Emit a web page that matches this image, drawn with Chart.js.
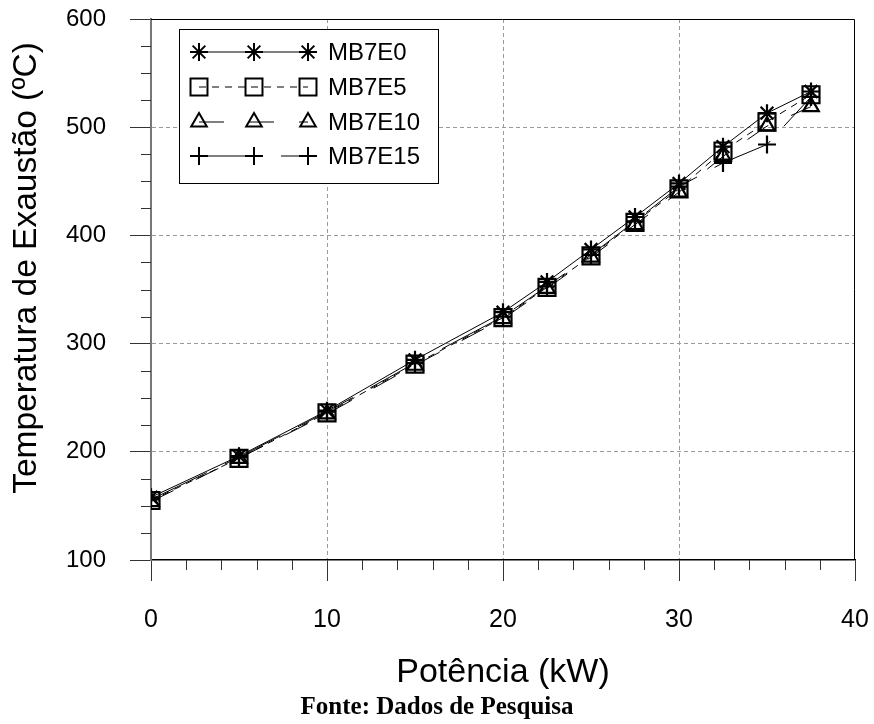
<!DOCTYPE html>
<html>
<head>
<meta charset="utf-8">
<script src="https://cdn.jsdelivr.net/npm/chart.js@4/dist/chart.umd.min.js"></script>
<style>
  html, body { margin: 0; padding: 0; background: #fff; }
  #wrap { width: 874px; height: 724px; }
</style>
</head>
<body>
<div id="wrap"><canvas id="exhaustChart"></canvas></div>
<script>
// Potência (kW) at each test point
const power = [0, 5, 10, 15, 20, 22.5, 25, 27.5, 30, 32.5, 35, 37.5];

// exhaust temperature (ºC) per blend
const mb7e0  = [158, 196, 238, 285, 329, 357, 387, 417, 448, 482, 513, 533];
const mb7e5  = [155, 194, 236, 281, 324, 352, 381, 412, 443, 478, 505, 530];
const mb7e10 = [154, 194, 235, 280, 323, 351, 380, 410, 440, 473, 501, 519];
const mb7e15 = [156, 195, 237, 282, 325, 353, 382, 413, 445, 467, 484, 528];

const seriesNames = ['MB7E0', 'MB7E5', 'MB7E10', 'MB7E15'];

const xTicks = [0, 10, 20, 30, 40];
const yTicks = [100, 200, 300, 400, 500, 600];

const yTitle = 'Temperatura de Exaustão (ºC)';

const toPoints = (ys) => ys.map((y, i) => ({ x: power[i], y: y }));

const sans = "'Liberation Sans', Arial, sans-serif";

const styles = [
    { pointStyle: 'star',     radius: 9,  dash: [] },
    { pointStyle: 'rect',     radius: 12, dash: [7, 6] },
    { pointStyle: 'triangle', radius: 9,  dash: [25, 25] },
    { pointStyle: 'cross',    radius: 9,  dash: [62, 20] }
];

const makeDataset = (label, values, st) => ({
    label: label,
    data: toPoints(values),
    borderColor: '#000',
    borderWidth: 1,
    borderDash: st.dash,
    backgroundColor: 'rgba(0,0,0,0)',
    pointStyle: st.pointStyle,
    pointRadius: st.radius,
    pointBorderColor: '#000',
    pointBorderWidth: 2.2,
    pointBackgroundColor: 'rgba(0,0,0,0)',
    tension: 0
});

// minor ticks outside the axes, a solid frame round the plot, and the y title
const frameAndMinorTicks = {
    id: 'frameAndMinorTicks',
    afterDraw(chart) {
        const { ctx, chartArea: a, scales } = chart;
        ctx.save();
        ctx.strokeStyle = '#333';
        ctx.lineWidth = 1;
        ctx.beginPath();
        for (let v = 0; v <= 40; v += 2) {
            if (v % 10 === 0) continue;
            const px = Math.round(scales.x.getPixelForValue(v)) + 0.5;
            ctx.moveTo(px, a.bottom);
            ctx.lineTo(px, a.bottom + 10);
        }
        for (let v = 100; v <= 600; v += 25) {
            if (v % 100 === 0) continue;
            const py = Math.round(scales.y.getPixelForValue(v)) + 0.5;
            ctx.moveTo(a.left - 10, py);
            ctx.lineTo(a.left, py);
        }
        ctx.stroke();
        ctx.strokeStyle = '#000';
        ctx.beginPath();
        ctx.moveTo(a.left, a.top + 0.5);
        ctx.lineTo(a.right - 0.5, a.top + 0.5);
        ctx.lineTo(a.right - 0.5, a.bottom);
        ctx.stroke();

        // rotated y title, sitting a little above the plot's middle
        ctx.translate(27, 268);
        ctx.rotate(-Math.PI / 2);
        ctx.fillStyle = '#000';
        ctx.font = '33.5px ' + sans;
        ctx.textAlign = 'center';
        ctx.textBaseline = 'middle';
        ctx.fillText(yTitle, 0, 0);
        ctx.restore();
    }
};

// boxed legend with three markers per series on a line sample
const sampleLegend = {
    id: 'sampleLegend',
    afterDraw(chart) {
        const { ctx } = chart;
        const box = { x: 179.5, y: 29.5, w: 259, h: 154 };
        const rows = [52, 87, 122, 156];
        const marks = [199, 254, 308];
        ctx.save();
        ctx.fillStyle = '#fff';
        ctx.fillRect(box.x, box.y, box.w, box.h);
        ctx.strokeStyle = '#000';
        ctx.lineWidth = 1;
        ctx.strokeRect(box.x, box.y, box.w, box.h);
        chart.data.datasets.forEach((ds, i) => {
            const y = rows[i];
            ctx.strokeStyle = '#000';
            ctx.lineWidth = 1;
            ctx.setLineDash(ds.borderDash);
            ctx.beginPath();
            ctx.moveTo(marks[0], y);
            ctx.lineTo(marks[2], y);
            ctx.stroke();
            ctx.setLineDash([]);
            ctx.fillStyle = 'rgba(0,0,0,0)';
            marks.forEach((mx) => {
                ctx.lineWidth = 2;
                Chart.helpers.drawPoint(ctx, {
                    pointStyle: ds.pointStyle,
                    radius: ds.pointRadius,
                    borderWidth: 2,
                    rotation: 0
                }, mx, y);
            });
            ctx.fillStyle = '#000';
            ctx.font = '24px ' + sans;
            ctx.textBaseline = 'middle';
            ctx.textAlign = 'left';
            ctx.fillText(ds.label, 328, y + 1);
        });
        ctx.restore();
    }
};

new Chart(document.getElementById('exhaustChart'), {
    type: 'line',
    data: {
        datasets: [
            makeDataset(seriesNames[0], mb7e0, styles[0]),
            makeDataset(seriesNames[1], mb7e5, styles[1]),
            makeDataset(seriesNames[2], mb7e10, styles[2]),
            makeDataset(seriesNames[3], mb7e15, styles[3])
        ]
    },
    options: {
        responsive: true,
        maintainAspectRatio: false,
        animation: false,
        layout: { padding: { top: 19, right: 0, left: 0, bottom: 0 } },
        plugins: {
            legend: { display: false },
            tooltip: { enabled: false },
            title: {
                display: true,
                position: 'bottom',
                align: 'center',
                text: 'Fonte: Dados de Pesquisa',
                color: '#000',
                font: { family: "'Liberation Serif', 'Times New Roman', serif", size: 25, weight: 'bold' },
                padding: { top: 0, bottom: 1 }
            }
        },
        scales: {
            x: {
                type: 'linear',
                min: xTicks[0],
                max: xTicks[xTicks.length - 1],
                afterBuildTicks: (scale) => { scale.ticks = xTicks.map(v => ({ value: v })); },
                afterFit: (scale) => {
                    scale.height = 133;
                    scale.paddingLeft = 0;
                    scale.paddingRight = 19;
                },
                ticks: {
                    color: '#000',
                    padding: 24,
                    maxRotation: 0,
                    font: { family: sans, size: 25 }
                },
                grid: {
                    color: (c) => (c.tick && (c.tick.value === 0 || c.tick.value === 40)) ? 'rgba(0,0,0,0)' : '#9a9a9a',
                    lineWidth: 1,
                    tickLength: 21,
                    tickColor: '#333',
                    tickBorderDash: []
                },
                border: { display: true, color: '#000', width: 1.5, dash: [4, 3] },
                title: {
                    display: true,
                    text: 'Potência (kW)',
                    color: '#000',
                    font: { family: sans, size: 34 },
                    padding: { top: 10, bottom: 0 }
                }
            },
            y: {
                min: yTicks[0],
                max: yTicks[yTicks.length - 1],
                afterBuildTicks: (scale) => { scale.ticks = yTicks.map(v => ({ value: v })); },
                afterFit: (scale) => {
                    scale.width = 151;
                    scale.paddingTop = 0;
                    scale.paddingBottom = 0;
                },
                ticks: {
                    color: '#000',
                    padding: 24,
                    font: { family: sans, size: 24 }
                },
                grid: {
                    color: (c) => (c.tick && (c.tick.value === 100 || c.tick.value === 600)) ? 'rgba(0,0,0,0)' : '#9a9a9a',
                    lineWidth: 1,
                    tickLength: 21,
                    tickColor: '#333',
                    tickBorderDash: []
                },
                border: { display: true, color: '#777', width: 2, dash: [4, 3] },
                title: { display: false }
            }
        }
    },
    plugins: [frameAndMinorTicks, sampleLegend]
});
</script>
</body>
</html>
